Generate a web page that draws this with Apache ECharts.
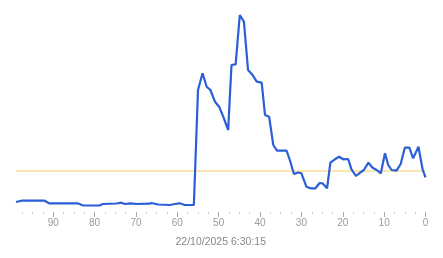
<!DOCTYPE html>
<html>
<head>
<meta charset="utf-8">
<script src="https://cdn.jsdelivr.net/npm/echarts@6/dist/echarts.min.js"></script>
<style>
html,body{margin:0;padding:0;background:#fff;}
#c{width:443px;height:258px;}
</style>
</head>
<body>
<div id="c"></div>
<script>
// seconds ago (x) and measured value (y)
const secondsAgo = [99, 97.7, 92.1, 91.0, 84.1, 82.9, 78.8, 78.0, 74.7, 73.5, 72.7, 71.3, 69.8, 66.7, 66.2, 64.7, 61.8, 60.6, 59.4, 58.2, 56,
  55.0, 53.9, 52.9, 52.0, 50.9, 49.9, 48.9, 47.7, 47.3, 46.9, 45.9, 44.9, 43.9, 42.9, 41.8, 40.8, 39.6, 38.8, 37.8, 36.8, 35.9, 33.6, 32.8,
  31.8, 30.8, 30.0, 28.8, 27.8, 26.6, 25.6, 24.9, 23.8, 23.0, 21.9, 20.9, 19.9, 18.7, 17.9, 16.8, 15.8, 14.9, 13.8, 12.8, 11.8, 10.8,
  9.8, 9.0, 8.2, 7.0, 6.0, 5.0, 3.9, 3.0, 1.7, 0.7, 0];
const values = [10, 11.3, 11.3, 8.7, 8.7, 6.7, 6.5, 8, 8.5, 9.3, 8, 8.7, 8, 8.3, 9, 7.5, 7, 8, 8.7, 7, 7,
  122, 138.7, 125.3, 122, 110.3, 105.3, 95.3, 82, 115.3, 147, 147.7, 197, 190.3, 142, 137, 130.3, 129.3, 97, 95.3, 67, 61.3, 61.3, 52,
  38, 39.5, 38.7, 25.3, 23.7, 23.7, 29, 28.7, 23.7, 49.3, 52.7, 55.3, 52.7, 53, 42.7, 36, 39.3, 42, 49.3, 44.3, 42, 38.7,
  58.7, 47, 42, 41.3, 48, 64.3, 64.3, 53.7, 65.3, 42.7, 34.7];
const threshold = 41;
const majorTicks = [0, 10, 20, 30, 40, 50, 60, 70, 80, 90];
const minorTicks = [2.5, 5, 7.5, 12.5, 15, 17.5, 22.5, 25, 27.5, 32.5, 35, 37.5, 42.5, 45, 47.5, 52.5, 55, 57.5,
  62.5, 65, 67.5, 72.5, 75, 77.5, 82.5, 85, 87.5, 92.5, 95, 97.5];
const axisTitle = '22/10/2025 6:30:15';

const chart = echarts.init(document.getElementById('c'), null, {renderer: 'canvas'});
const font = 'Arial, "Liberation Sans", sans-serif';
const xFirst = secondsAgo[0];
const xLast = secondsAgo[secondsAgo.length - 1];
chart.setOption({
  animation: false,
  grid: {left: 16, right: 17.5, top: 12, bottom: 46},
  xAxis: [{
    type: 'value', min: 0, max: 99, inverse: true,
    axisLine: {show: false},
    splitLine: {show: false},
    axisTick: {show: true, length: 5, customValues: majorTicks, lineStyle: {color: '#aaaaaa', width: 1}},
    axisLabel: {customValues: majorTicks, color: '#9a9a9a', fontSize: 10, fontFamily: font, margin: 6},
    name: axisTitle, nameLocation: 'middle', nameGap: 25,
    nameTextStyle: {color: '#888888', fontSize: 10.5, fontFamily: font}
  }, {
    type: 'value', min: 0, max: 99, inverse: true, position: 'bottom',
    axisLine: {show: false},
    splitLine: {show: false},
    axisTick: {show: true, length: 1.5, customValues: minorTicks, lineStyle: {color: '#bbbbbb', width: 1}},
    axisLabel: {show: false}
  }],
  yAxis: {
    type: 'value', min: 0, max: 200, show: false
  },
  series: [{
    type: 'line',
    xAxisIndex: 0,
    data: [[xFirst, threshold], [xLast, threshold]],
    symbol: 'none',
    silent: true,
    z: 2,
    lineStyle: {color: '#f2cf5e', width: 1}
  }, {
    type: 'line',
    xAxisIndex: 0,
    data: secondsAgo.map((x, i) => [x, values[i]]),
    symbol: 'none',
    z: 3,
    lineStyle: {color: '#2b5fd8', width: 2.2}
  }]
});
</script>
</body>
</html>
